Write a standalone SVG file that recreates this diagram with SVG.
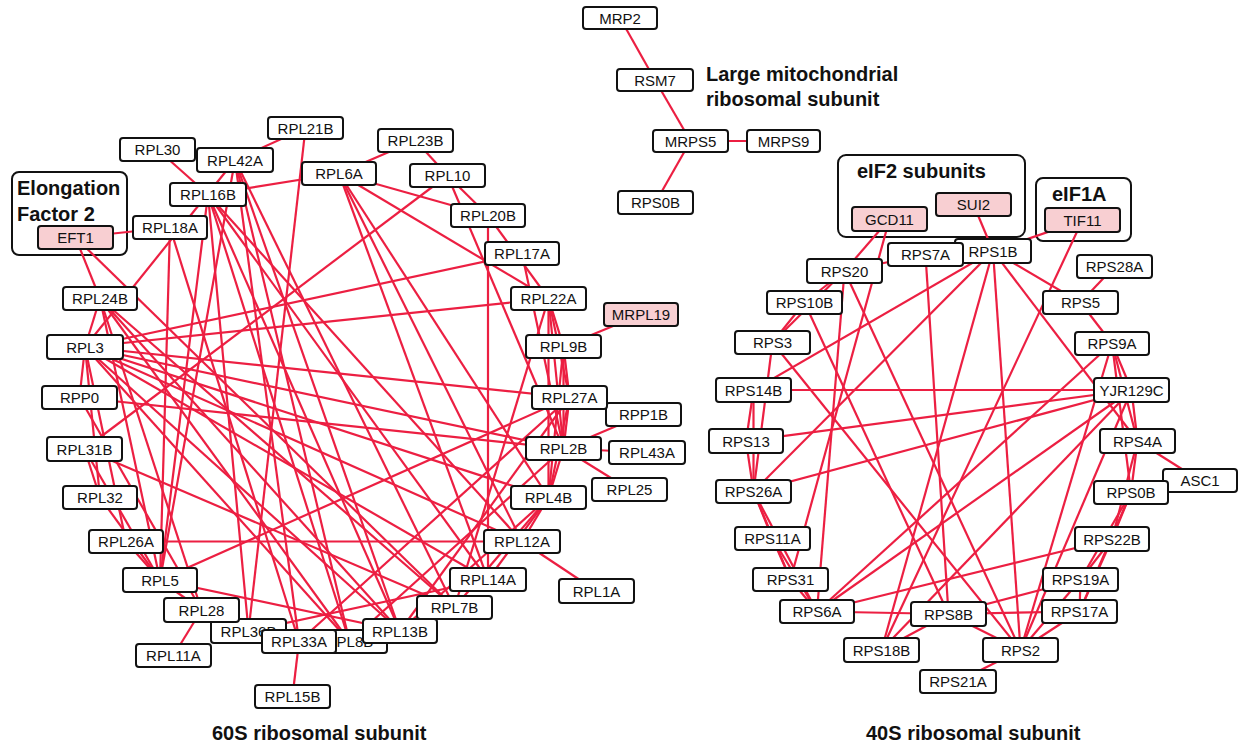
<svg xmlns="http://www.w3.org/2000/svg" width="1241" height="746" viewBox="0 0 1241 746">
<style>
.bg{fill:#fff}
#edges line{stroke:#ec1f42;stroke-width:2.2}
.n rect{fill:#fff;stroke:#111;stroke-width:2}
.p rect{fill:#f8cfd2}
.n text{font-family:"Liberation Sans",Arial,sans-serif;font-size:15px;text-anchor:middle;fill:#111}
.grp{fill:#fff;stroke:#111;stroke-width:2}
.t{font-family:"Liberation Sans",Arial,sans-serif;font-weight:bold;font-size:20px;fill:#111}
</style>
<rect class="bg" x="0" y="0" width="1241" height="746"/>
<g id="groups">
<rect class="grp" x="12" y="172" width="115" height="83" rx="7"/>
<rect class="grp" x="838" y="155" width="187" height="82" rx="8"/>
<rect class="grp" x="1036" y="178" width="95" height="63" rx="7"/>
</g>
<g id="edges">
<line x1="620" y1="18" x2="655" y2="80"/>
<line x1="655" y1="80" x2="690.5" y2="141"/>
<line x1="690.5" y1="141" x2="783.5" y2="141"/>
<line x1="690.5" y1="141" x2="655.5" y2="202.5"/>
<line x1="75.5" y1="237.5" x2="170" y2="227.5"/>
<line x1="75.5" y1="237.5" x2="100" y2="298.5"/>
<line x1="75.5" y1="237.5" x2="454.5" y2="607.5"/>
<line x1="157.5" y1="149.5" x2="208" y2="194.5"/>
<line x1="235" y1="160" x2="305.5" y2="128"/>
<line x1="235" y1="160" x2="85" y2="347"/>
<line x1="235" y1="160" x2="160" y2="580"/>
<line x1="235" y1="160" x2="299" y2="641.5"/>
<line x1="235" y1="160" x2="349.5" y2="641.5"/>
<line x1="235" y1="160" x2="400" y2="631"/>
<line x1="235" y1="160" x2="454.5" y2="607.5"/>
<line x1="208" y1="194.5" x2="339" y2="173.5"/>
<line x1="208" y1="194.5" x2="160" y2="580"/>
<line x1="208" y1="194.5" x2="248.5" y2="631"/>
<line x1="208" y1="194.5" x2="400" y2="631"/>
<line x1="208" y1="194.5" x2="488" y2="579.5"/>
<line x1="208" y1="194.5" x2="522" y2="541.5"/>
<line x1="208" y1="194.5" x2="349.5" y2="641.5"/>
<line x1="305.5" y1="128" x2="248.5" y2="631"/>
<line x1="170" y1="227.5" x2="160" y2="580"/>
<line x1="170" y1="227.5" x2="299" y2="641.5"/>
<line x1="339" y1="173.5" x2="415.5" y2="140.5"/>
<line x1="339" y1="173.5" x2="488" y2="215.5"/>
<line x1="339" y1="173.5" x2="548.5" y2="298.5"/>
<line x1="339" y1="173.5" x2="488" y2="579.5"/>
<line x1="339" y1="173.5" x2="548.5" y2="497.5"/>
<line x1="339" y1="173.5" x2="522" y2="541.5"/>
<line x1="415.5" y1="140.5" x2="447.5" y2="175.5"/>
<line x1="447.5" y1="175.5" x2="488" y2="215.5"/>
<line x1="447.5" y1="175.5" x2="84.5" y2="449"/>
<line x1="447.5" y1="175.5" x2="563.5" y2="448.5"/>
<line x1="488" y1="215.5" x2="488" y2="579.5"/>
<line x1="488" y1="215.5" x2="548.5" y2="298.5"/>
<line x1="522" y1="253.5" x2="85" y2="347"/>
<line x1="522" y1="253.5" x2="563.5" y2="448.5"/>
<line x1="548.5" y1="298.5" x2="85" y2="347"/>
<line x1="548.5" y1="298.5" x2="563.5" y2="346.5"/>
<line x1="548.5" y1="298.5" x2="569.5" y2="397.5"/>
<line x1="548.5" y1="298.5" x2="563.5" y2="448.5"/>
<line x1="548.5" y1="298.5" x2="548.5" y2="497.5"/>
<line x1="548.5" y1="298.5" x2="454.5" y2="607.5"/>
<line x1="563.5" y1="346.5" x2="641" y2="314.5"/>
<line x1="563.5" y1="346.5" x2="569.5" y2="397.5"/>
<line x1="563.5" y1="346.5" x2="563.5" y2="448.5"/>
<line x1="563.5" y1="346.5" x2="548.5" y2="497.5"/>
<line x1="569.5" y1="397.5" x2="563.5" y2="448.5"/>
<line x1="569.5" y1="397.5" x2="548.5" y2="497.5"/>
<line x1="569.5" y1="397.5" x2="85" y2="347"/>
<line x1="569.5" y1="397.5" x2="160" y2="580"/>
<line x1="569.5" y1="397.5" x2="400" y2="631"/>
<line x1="569.5" y1="397.5" x2="299" y2="641.5"/>
<line x1="563.5" y1="448.5" x2="643.5" y2="414.5"/>
<line x1="563.5" y1="448.5" x2="647" y2="452.5"/>
<line x1="563.5" y1="448.5" x2="629.5" y2="489.5"/>
<line x1="563.5" y1="448.5" x2="548.5" y2="497.5"/>
<line x1="563.5" y1="448.5" x2="79.5" y2="397.5"/>
<line x1="563.5" y1="448.5" x2="85" y2="347"/>
<line x1="563.5" y1="448.5" x2="349.5" y2="641.5"/>
<line x1="548.5" y1="497.5" x2="522" y2="541.5"/>
<line x1="548.5" y1="497.5" x2="488" y2="579.5"/>
<line x1="548.5" y1="497.5" x2="454.5" y2="607.5"/>
<line x1="548.5" y1="497.5" x2="400" y2="631"/>
<line x1="548.5" y1="497.5" x2="85" y2="347"/>
<line x1="522" y1="541.5" x2="596.5" y2="591"/>
<line x1="522" y1="541.5" x2="126" y2="541.5"/>
<line x1="522" y1="541.5" x2="85" y2="347"/>
<line x1="488" y1="579.5" x2="248.5" y2="631"/>
<line x1="488" y1="579.5" x2="85" y2="347"/>
<line x1="299" y1="641.5" x2="292.5" y2="696.5"/>
<line x1="201.5" y1="610" x2="173.5" y2="655.5"/>
<line x1="201.5" y1="610" x2="160" y2="580"/>
<line x1="201.5" y1="610" x2="100" y2="298.5"/>
<line x1="160" y1="580" x2="100" y2="298.5"/>
<line x1="160" y1="580" x2="100" y2="497.5"/>
<line x1="160" y1="580" x2="126" y2="541.5"/>
<line x1="160" y1="580" x2="84.5" y2="449"/>
<line x1="160" y1="580" x2="400" y2="631"/>
<line x1="85" y1="347" x2="100" y2="298.5"/>
<line x1="85" y1="347" x2="79.5" y2="397.5"/>
<line x1="85" y1="347" x2="400" y2="631"/>
<line x1="85" y1="347" x2="349.5" y2="641.5"/>
<line x1="85" y1="347" x2="126" y2="541.5"/>
<line x1="85" y1="347" x2="100" y2="497.5"/>
<line x1="100" y1="298.5" x2="400" y2="631"/>
<line x1="100" y1="298.5" x2="349.5" y2="641.5"/>
<line x1="100" y1="298.5" x2="454.5" y2="607.5"/>
<line x1="79.5" y1="397.5" x2="201.5" y2="610"/>
<line x1="84.5" y1="449" x2="100" y2="497.5"/>
<line x1="84.5" y1="449" x2="454.5" y2="607.5"/>
<line x1="889.5" y1="219" x2="844.5" y2="271"/>
<line x1="889.5" y1="219" x2="790.5" y2="579.5"/>
<line x1="973.5" y1="204.5" x2="993" y2="251"/>
<line x1="1082.5" y1="220" x2="993" y2="251"/>
<line x1="1082.5" y1="220" x2="881.5" y2="650"/>
<line x1="925.5" y1="254.5" x2="844.5" y2="271"/>
<line x1="925.5" y1="254.5" x2="948.5" y2="614"/>
<line x1="993" y1="251" x2="753.5" y2="390"/>
<line x1="993" y1="251" x2="753.5" y2="491.5"/>
<line x1="993" y1="251" x2="881.5" y2="650"/>
<line x1="993" y1="251" x2="1020.5" y2="650"/>
<line x1="993" y1="251" x2="1137.5" y2="441"/>
<line x1="993" y1="251" x2="1080.5" y2="302.5"/>
<line x1="1114.5" y1="266.5" x2="1080.5" y2="302.5"/>
<line x1="1080.5" y1="302.5" x2="1112" y2="343.5"/>
<line x1="844.5" y1="271" x2="804.5" y2="302.5"/>
<line x1="844.5" y1="271" x2="772.5" y2="342.5"/>
<line x1="844.5" y1="271" x2="817" y2="611.5"/>
<line x1="844.5" y1="271" x2="1020.5" y2="650"/>
<line x1="804.5" y1="302.5" x2="772.5" y2="342.5"/>
<line x1="804.5" y1="302.5" x2="948.5" y2="614"/>
<line x1="772.5" y1="342.5" x2="753.5" y2="491.5"/>
<line x1="772.5" y1="342.5" x2="1020.5" y2="650"/>
<line x1="753.5" y1="390" x2="1131.5" y2="390"/>
<line x1="753.5" y1="390" x2="746" y2="441"/>
<line x1="753.5" y1="390" x2="753.5" y2="491.5"/>
<line x1="746" y1="441" x2="1131.5" y2="390"/>
<line x1="746" y1="441" x2="753.5" y2="491.5"/>
<line x1="753.5" y1="491.5" x2="1131.5" y2="390"/>
<line x1="753.5" y1="491.5" x2="772.5" y2="538.5"/>
<line x1="753.5" y1="491.5" x2="790.5" y2="579.5"/>
<line x1="753.5" y1="491.5" x2="817" y2="611.5"/>
<line x1="772.5" y1="538.5" x2="790.5" y2="579.5"/>
<line x1="772.5" y1="538.5" x2="817" y2="611.5"/>
<line x1="790.5" y1="579.5" x2="817" y2="611.5"/>
<line x1="1112" y1="343.5" x2="817" y2="611.5"/>
<line x1="1112" y1="343.5" x2="1020.5" y2="650"/>
<line x1="1112" y1="343.5" x2="1131.5" y2="390"/>
<line x1="1112" y1="343.5" x2="1137.5" y2="441"/>
<line x1="1112" y1="343.5" x2="1131" y2="492.5"/>
<line x1="1131.5" y1="390" x2="817" y2="611.5"/>
<line x1="1131.5" y1="390" x2="881.5" y2="650"/>
<line x1="1131.5" y1="390" x2="1020.5" y2="650"/>
<line x1="1131.5" y1="390" x2="1137.5" y2="441"/>
<line x1="1137.5" y1="441" x2="1200" y2="480.5"/>
<line x1="1137.5" y1="441" x2="1131" y2="492.5"/>
<line x1="1137.5" y1="441" x2="1112" y2="539"/>
<line x1="1131" y1="492.5" x2="1112" y2="539"/>
<line x1="1131" y1="492.5" x2="1080.5" y2="579.5"/>
<line x1="1131" y1="492.5" x2="1079.5" y2="611.5"/>
<line x1="1112" y1="539" x2="1080.5" y2="579.5"/>
<line x1="1112" y1="539" x2="1079.5" y2="611.5"/>
<line x1="1112" y1="539" x2="817" y2="611.5"/>
<line x1="1080.5" y1="579.5" x2="1079.5" y2="611.5"/>
<line x1="1080.5" y1="579.5" x2="948.5" y2="614"/>
<line x1="1080.5" y1="579.5" x2="1020.5" y2="650"/>
<line x1="1079.5" y1="611.5" x2="948.5" y2="614"/>
<line x1="1079.5" y1="611.5" x2="1020.5" y2="650"/>
<line x1="817" y1="611.5" x2="948.5" y2="614"/>
<line x1="948.5" y1="614" x2="881.5" y2="650"/>
<line x1="948.5" y1="614" x2="1020.5" y2="650"/>
<line x1="1020.5" y1="650" x2="958" y2="681.5"/>
</g>
<g id="labels">
<text class="t" x="17" y="195">Elongation</text>
<text class="t" x="17" y="221">Factor 2</text>
<text class="t" x="857" y="178">eIF2 subunits</text>
<text class="t" x="1052" y="201">eIF1A</text>
<text class="t" x="706" y="81" font-size="19.5">Large mitochondrial</text>
<text class="t" x="706" y="106" font-size="19.5">ribosomal subunit</text>
<text class="t" x="212" y="740">60S ribosomal subunit</text>
<text class="t" x="866" y="740">40S ribosomal subunit</text>
</g>
<g id="MRP2" class="n"><rect x="583" y="7" width="74" height="22" rx="3"/><text x="620" y="23.5">MRP2</text></g>
<g id="RSM7" class="n"><rect x="617" y="69" width="76" height="22" rx="3"/><text x="655" y="85.5">RSM7</text></g>
<g id="MRPS5" class="n"><rect x="653" y="130" width="75" height="22" rx="3"/><text x="690.5" y="146.5">MRPS5</text></g>
<g id="MRPS9" class="n"><rect x="747" y="130" width="73" height="22" rx="3"/><text x="783.5" y="146.5">MRPS9</text></g>
<g id="RPS0B-mito" class="n"><rect x="618" y="191" width="75" height="23" rx="3"/><text x="655.5" y="208">RPS0B</text></g>
<g id="EFT1" class="n p"><rect x="38" y="226" width="75" height="23" rx="3"/><text x="75.5" y="243">EFT1</text></g>
<g id="RPL30" class="n"><rect x="120" y="138" width="75" height="23" rx="3"/><text x="157.5" y="155">RPL30</text></g>
<g id="RPL42A" class="n"><rect x="197" y="148" width="76" height="24" rx="3"/><text x="235" y="165.5">RPL42A</text></g>
<g id="RPL21B" class="n"><rect x="268" y="117" width="75" height="22" rx="3"/><text x="305.5" y="133.5">RPL21B</text></g>
<g id="RPL16B" class="n"><rect x="170" y="183" width="76" height="23" rx="3"/><text x="208" y="200">RPL16B</text></g>
<g id="RPL18A" class="n"><rect x="133" y="216" width="74" height="23" rx="3"/><text x="170" y="233">RPL18A</text></g>
<g id="RPL23B" class="n"><rect x="378" y="129" width="75" height="23" rx="3"/><text x="415.5" y="146">RPL23B</text></g>
<g id="RPL6A" class="n"><rect x="302" y="162" width="74" height="23" rx="3"/><text x="339" y="179">RPL6A</text></g>
<g id="RPL10" class="n"><rect x="410" y="164" width="75" height="23" rx="3"/><text x="447.5" y="181">RPL10</text></g>
<g id="RPL20B" class="n"><rect x="451" y="204" width="74" height="23" rx="3"/><text x="488" y="221">RPL20B</text></g>
<g id="RPL17A" class="n"><rect x="485" y="242" width="74" height="23" rx="3"/><text x="522" y="259">RPL17A</text></g>
<g id="RPL22A" class="n"><rect x="511" y="287" width="75" height="23" rx="3"/><text x="548.5" y="304">RPL22A</text></g>
<g id="MRPL19" class="n p"><rect x="604" y="303" width="74" height="23" rx="3"/><text x="641" y="320">MRPL19</text></g>
<g id="RPL9B" class="n"><rect x="526" y="335" width="75" height="23" rx="3"/><text x="563.5" y="352">RPL9B</text></g>
<g id="RPP1B" class="n"><rect x="606" y="403" width="75" height="23" rx="3"/><text x="643.5" y="420">RPP1B</text></g>
<g id="RPL27A" class="n"><rect x="532" y="386" width="75" height="23" rx="3"/><text x="569.5" y="403">RPL27A</text></g>
<g id="RPL2B" class="n"><rect x="526" y="437" width="75" height="23" rx="3"/><text x="563.5" y="454">RPL2B</text></g>
<g id="RPL43A" class="n"><rect x="609" y="441" width="76" height="23" rx="3"/><text x="647" y="458">RPL43A</text></g>
<g id="RPL25" class="n"><rect x="592" y="478" width="75" height="23" rx="3"/><text x="629.5" y="495">RPL25</text></g>
<g id="RPL4B" class="n"><rect x="511" y="486" width="75" height="23" rx="3"/><text x="548.5" y="503">RPL4B</text></g>
<g id="RPL12A" class="n"><rect x="484" y="530" width="76" height="23" rx="3"/><text x="522" y="547">RPL12A</text></g>
<g id="RPL1A" class="n"><rect x="559" y="579" width="75" height="24" rx="3"/><text x="596.5" y="596.5">RPL1A</text></g>
<g id="RPL14A" class="n"><rect x="450" y="568" width="76" height="23" rx="3"/><text x="488" y="585">RPL14A</text></g>
<g id="RPL7B" class="n"><rect x="417" y="596" width="75" height="23" rx="3"/><text x="454.5" y="613">RPL7B</text></g>
<g id="RPL8B" class="n"><rect x="312" y="630" width="75" height="23" rx="3"/><text x="349.5" y="647">RPL8B</text></g>
<g id="RPL36B" class="n"><rect x="211" y="619" width="75" height="24" rx="3"/><text x="248.5" y="636.5">RPL36B</text></g>
<g id="RPL28" class="n"><rect x="164" y="598" width="75" height="24" rx="3"/><text x="201.5" y="615.5">RPL28</text></g>
<g id="RPL33A" class="n"><rect x="262" y="630" width="74" height="23" rx="3"/><text x="299" y="647">RPL33A</text></g>
<g id="RPL13B" class="n"><rect x="363" y="619" width="74" height="24" rx="3"/><text x="400" y="636.5">RPL13B</text></g>
<g id="RPL15B" class="n"><rect x="255" y="685" width="75" height="23" rx="3"/><text x="292.5" y="702">RPL15B</text></g>
<g id="RPL11A" class="n"><rect x="136" y="644" width="75" height="23" rx="3"/><text x="173.5" y="661">RPL11A</text></g>
<g id="RPL5" class="n"><rect x="123" y="568" width="74" height="24" rx="3"/><text x="160" y="585.5">RPL5</text></g>
<g id="RPL26A" class="n"><rect x="89" y="530" width="74" height="23" rx="3"/><text x="126" y="547">RPL26A</text></g>
<g id="RPL32" class="n"><rect x="63" y="486" width="74" height="23" rx="3"/><text x="100" y="503">RPL32</text></g>
<g id="RPL31B" class="n"><rect x="47" y="437" width="75" height="24" rx="3"/><text x="84.5" y="454.5">RPL31B</text></g>
<g id="RPP0" class="n"><rect x="42" y="386" width="75" height="23" rx="3"/><text x="79.5" y="403">RPP0</text></g>
<g id="RPL3" class="n"><rect x="47" y="335" width="76" height="24" rx="3"/><text x="85" y="352.5">RPL3</text></g>
<g id="RPL24B" class="n"><rect x="63" y="287" width="74" height="23" rx="3"/><text x="100" y="304">RPL24B</text></g>
<g id="GCD11" class="n p"><rect x="852" y="207" width="75" height="24" rx="3"/><text x="889.5" y="224.5">GCD11</text></g>
<g id="SUI2" class="n p"><rect x="936" y="193" width="75" height="23" rx="3"/><text x="973.5" y="210">SUI2</text></g>
<g id="TIF11" class="n p"><rect x="1045" y="208" width="75" height="24" rx="3"/><text x="1082.5" y="225.5">TIF11</text></g>
<g id="RPS1B" class="n"><rect x="955" y="239" width="76" height="24" rx="3"/><text x="993" y="256.5">RPS1B</text></g>
<g id="RPS7A" class="n"><rect x="888" y="243" width="75" height="23" rx="3"/><text x="925.5" y="260">RPS7A</text></g>
<g id="RPS20" class="n"><rect x="807" y="259" width="75" height="24" rx="3"/><text x="844.5" y="276.5">RPS20</text></g>
<g id="RPS28A" class="n"><rect x="1077" y="255" width="75" height="23" rx="3"/><text x="1114.5" y="272">RPS28A</text></g>
<g id="RPS10B" class="n"><rect x="767" y="291" width="75" height="23" rx="3"/><text x="804.5" y="308">RPS10B</text></g>
<g id="RPS5" class="n"><rect x="1043" y="291" width="75" height="23" rx="3"/><text x="1080.5" y="308">RPS5</text></g>
<g id="RPS3" class="n"><rect x="735" y="331" width="75" height="23" rx="3"/><text x="772.5" y="348">RPS3</text></g>
<g id="RPS9A" class="n"><rect x="1075" y="332" width="74" height="23" rx="3"/><text x="1112" y="349">RPS9A</text></g>
<g id="RPS14B" class="n"><rect x="716" y="378" width="75" height="24" rx="3"/><text x="753.5" y="395.5">RPS14B</text></g>
<g id="YJR129C" class="n"><rect x="1094" y="378" width="75" height="24" rx="3"/><text x="1131.5" y="395.5">YJR129C</text></g>
<g id="RPS13" class="n"><rect x="709" y="429" width="74" height="24" rx="3"/><text x="746" y="446.5">RPS13</text></g>
<g id="RPS4A" class="n"><rect x="1100" y="429" width="75" height="24" rx="3"/><text x="1137.5" y="446.5">RPS4A</text></g>
<g id="RPS26A" class="n"><rect x="716" y="480" width="75" height="23" rx="3"/><text x="753.5" y="497">RPS26A</text></g>
<g id="ASC1" class="n"><rect x="1163" y="469" width="74" height="23" rx="3"/><text x="1200" y="486">ASC1</text></g>
<g id="RPS0B" class="n"><rect x="1094" y="481" width="74" height="23" rx="3"/><text x="1131" y="498">RPS0B</text></g>
<g id="RPS11A" class="n"><rect x="735" y="527" width="75" height="23" rx="3"/><text x="772.5" y="544">RPS11A</text></g>
<g id="RPS22B" class="n"><rect x="1075" y="527" width="74" height="24" rx="3"/><text x="1112" y="544.5">RPS22B</text></g>
<g id="RPS31" class="n"><rect x="753" y="568" width="75" height="23" rx="3"/><text x="790.5" y="585">RPS31</text></g>
<g id="RPS19A" class="n"><rect x="1043" y="568" width="75" height="23" rx="3"/><text x="1080.5" y="585">RPS19A</text></g>
<g id="RPS6A" class="n"><rect x="780" y="600" width="74" height="23" rx="3"/><text x="817" y="617">RPS6A</text></g>
<g id="RPS8B" class="n"><rect x="911" y="602" width="75" height="24" rx="3"/><text x="948.5" y="619.5">RPS8B</text></g>
<g id="RPS17A" class="n"><rect x="1042" y="600" width="75" height="23" rx="3"/><text x="1079.5" y="617">RPS17A</text></g>
<g id="RPS18B" class="n"><rect x="844" y="638" width="75" height="24" rx="3"/><text x="881.5" y="655.5">RPS18B</text></g>
<g id="RPS2" class="n"><rect x="983" y="638" width="75" height="24" rx="3"/><text x="1020.5" y="655.5">RPS2</text></g>
<g id="RPS21A" class="n"><rect x="920" y="670" width="76" height="23" rx="3"/><text x="958" y="687">RPS21A</text></g>
</svg>
